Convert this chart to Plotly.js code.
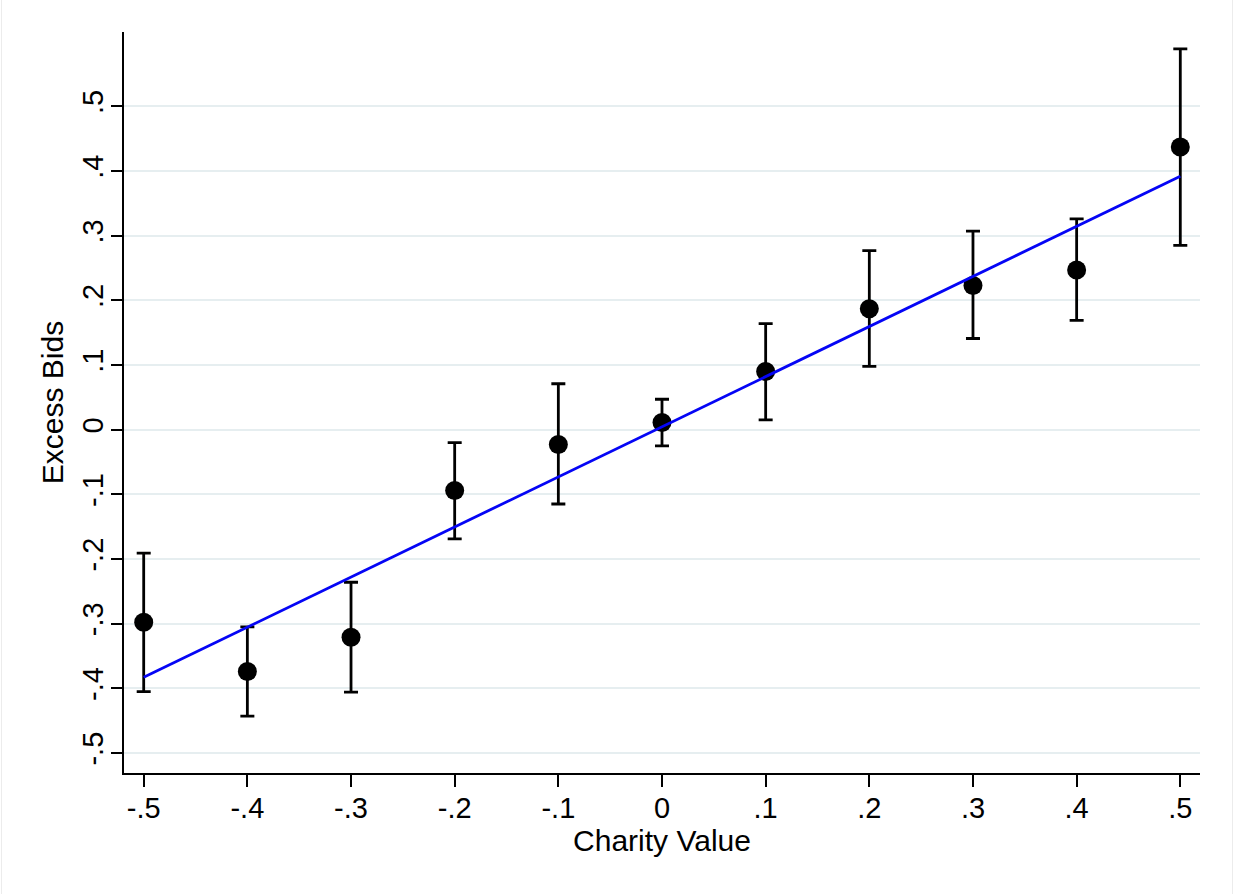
<!DOCTYPE html>
<html>
<head>
<meta charset="utf-8">
<script src="https://cdn.plot.ly/plotly-3.0.1.min.js"></script>
<style>
  html, body { margin: 0; padding: 0; background: #ffffff; }
  #chart { width: 1235px; height: 894px; }
  .edge { position: absolute; top: 0; width: 1px; height: 894px; background: #ececec; }
</style>
</head>
<body>
<div id="chart"></div>
<div class="edge" style="left:1px;"></div>
<div class="edge" style="left:1232px;"></div>
<script>
// Data
const charityValue = [-0.5, -0.4, -0.3, -0.2, -0.1, 0, 0.1, 0.2, 0.3, 0.4, 0.5];
const excessBids   = [-0.298, -0.374, -0.321, -0.094, -0.023, 0.011, 0.090, 0.187, 0.223, 0.247, 0.437];
const ciUpper      = [-0.191, -0.305, -0.236, -0.020, 0.071, 0.047, 0.164, 0.277, 0.307, 0.326, 0.589];
const ciLower      = [-0.405, -0.443, -0.406, -0.169, -0.115, -0.025, 0.015, 0.098, 0.141, 0.169, 0.285];
const fitX = [-0.5, 0.5];
const fitY = [-0.383, 0.392];
const xTickVals = [-0.5, -0.4, -0.3, -0.2, -0.1, 0, 0.1, 0.2, 0.3, 0.4, 0.5];
const xTickText = ['-.5', '-.4', '-.3', '-.2', '-.1', '0', '.1', '.2', '.3', '.4', '.5'];
const yTickVals = [-0.5, -0.4, -0.3, -0.2, -0.1, 0, 0.1, 0.2, 0.3, 0.4, 0.5];
const yTickText = ['-.5', '-.4', '-.3', '-.2', '-.1', '0', '.1', '.2', '.3', '.4', '.5'];

const errPlus = ciUpper.map((u, i) => u - excessBids[i]);
const errMinus = excessBids.map((v, i) => v - ciLower[i]);

const FONT = 'Liberation Sans, Arial, Helvetica, sans-serif';

const traces = [
  {
    x: charityValue,
    y: excessBids,
    type: 'scatter',
    mode: 'markers',
    marker: { color: '#000000', size: 19 },
    error_y: {
      type: 'data',
      symmetric: false,
      array: errPlus,
      arrayminus: errMinus,
      color: '#000000',
      thickness: 2.8,
      width: 7
    },
    showlegend: false,
    hoverinfo: 'x+y'
  },
  {
    x: fitX,
    y: fitY,
    type: 'scatter',
    mode: 'lines',
    line: { color: '#0505f5', width: 2.8 },
    showlegend: false
  }
];

const layout = {
  width: 1235,
  height: 894,
  margin: { l: 124, r: 35, t: 32, b: 121 },
  paper_bgcolor: '#ffffff',
  plot_bgcolor: '#ffffff',
  font: { family: FONT, color: '#000000', size: 29 },
  xaxis: {
    range: [-0.519, 0.519],
    tickvals: xTickVals,
    ticktext: xTickText,
    ticks: 'outside',
    ticklen: 12,
    tickwidth: 2,
    tickcolor: '#000000',
    ticklabelstandoff: -4,
    showline: true,
    linecolor: '#000000',
    linewidth: 2,
    showgrid: false,
    zeroline: false,
    tickfont: { family: FONT, size: 29, color: '#000000' },
    title: { text: 'Charity Value', font: { family: FONT, size: 30, color: '#000000' }, standoff: 4 }
  },
  yaxis: {
    range: [-0.531, 0.615],
    tickvals: yTickVals,
    ticktext: yTickText,
    tickangle: -90,
    ticks: 'outside',
    ticklen: 11,
    tickwidth: 2,
    tickcolor: '#000000',
    ticklabelstandoff: -4,
    showline: true,
    linecolor: '#000000',
    linewidth: 2,
    showgrid: true,
    gridcolor: '#e6eef0',
    gridwidth: 2,
    zeroline: false,
    tickfont: { family: FONT, size: 29, color: '#000000' },
    title: { text: 'Excess Bids', font: { family: FONT, size: 30, color: '#000000' }, standoff: 5 }
  }
};

Plotly.newPlot('chart', traces, layout, { displayModeBar: false, staticPlot: true });
</script>
</body>
</html>
